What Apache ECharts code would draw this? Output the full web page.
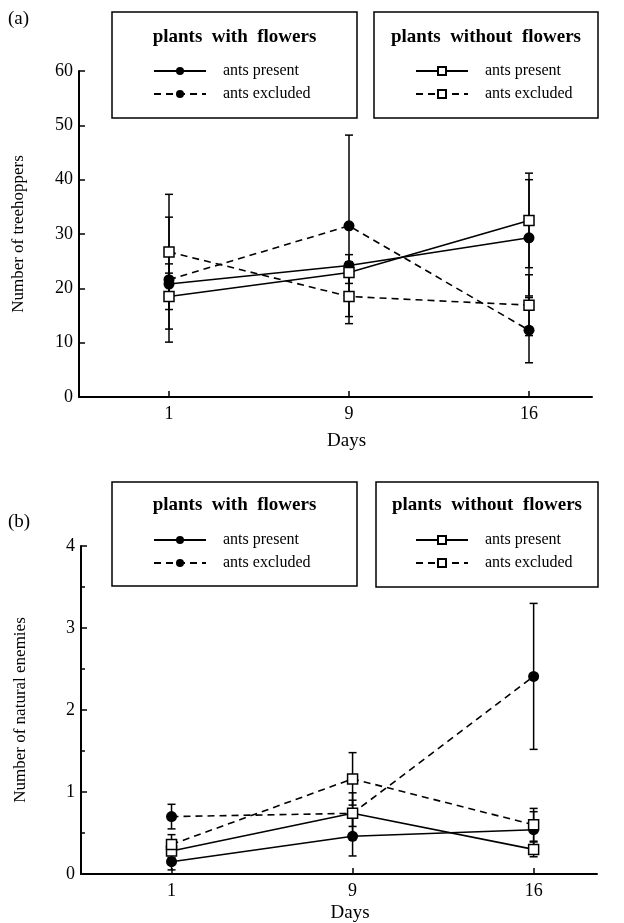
<!DOCTYPE html>
<html>
<head>
<meta charset="utf-8">
<script src="https://cdn.jsdelivr.net/npm/echarts@6/dist/echarts.min.js"></script>
<style>
  html, body { margin: 0; padding: 0; background: #fff; }
  #chart { width: 624px; height: 923px; }
</style>
</head>
<body>
<div id="chart"></div>
<script>
// x positions are category slots 1..3, labelled with the sampling day
const days = ['1', '9', '16']
const slots = [1, 2, 3]

// (a) treehoppers: means and standard errors
const hopFlowPresent = [20.8, 24.2, 29.3]
const hopFlowPresentErr = [2, 2, 10.7]
const hopFlowExcluded = [21.6, 31.5, 12.3]
const hopFlowExcludedErr = [11.5, 16.7, 6]
const hopNoFlowPresent = [18.5, 22.9, 32.5]
const hopNoFlowPresentErr = [6, 2, 8.7]
const hopNoFlowExcluded = [26.7, 18.5, 16.9]
const hopNoFlowExcludedErr = [10.6, 5, 5.6]

// (b) natural enemies
const enFlowPresent = [0.15, 0.46, 0.54]
const enFlowPresentErr = [0.1, 0.24, 0.22]
const enFlowExcluded = [0.70, 0.74, 2.41]
const enFlowExcludedErr = [0.15, 0.16, 0.89]
const enNoFlowPresent = [0.28, 0.74, 0.30]
const enNoFlowPresentErr = [0.08, 0.25, 0.09]
const enNoFlowExcluded = [0.36, 1.16, 0.60]
const enNoFlowExcludedErr = [0.12, 0.32, 0.2]

const serif = '"Liberation Serif", "DejaVu Serif", serif'

function pts(vals) { return vals.map((v, i) => [slots[i], v]) }
function errs(vals, e) { return vals.map((v, i) => [slots[i], v - e[i], v + e[i]]) }

function lineSeries(name, idx, vals, filled, dashed) {
  return {
    name, type: 'line', xAxisIndex: idx, yAxisIndex: idx, z: 3,
    data: pts(vals),
    symbol: filled ? 'circle' : 'rect',
    symbolSize: filled ? 11 : 10,
    itemStyle: filled
      ? { color: '#000', borderColor: '#000', borderWidth: 0 }
      : { color: '#fff', borderColor: '#000', borderWidth: 1.5 },
    lineStyle: { color: '#000', width: 1.6, type: dashed ? [7, 5] : 'solid' },
    emphasis: { disabled: true },
  }
}

function errSeries(idx, vals, e) {
  return {
    type: 'custom', xAxisIndex: idx, yAxisIndex: idx, z: 2, silent: true,
    data: errs(vals, e),
    renderItem: (params, api) => {
      const lo = api.coord([api.value(0), api.value(1)])
      const hi = api.coord([api.value(0), api.value(2)])
      const w = 4
      const style = { stroke: '#000', lineWidth: 1.5 }
      return {
        type: 'group',
        children: [
          { type: 'line', shape: { x1: lo[0], y1: lo[1], x2: hi[0], y2: hi[1] }, style },
          { type: 'line', shape: { x1: hi[0] - w, y1: hi[1], x2: hi[0] + w, y2: hi[1] }, style },
          { type: 'line', shape: { x1: lo[0] - w, y1: lo[1], x2: lo[0] + w, y2: lo[1] }, style },
        ],
      }
    },
  }
}

function xAxis(idx, gap) {
  return {
    type: 'value', gridIndex: idx, min: 0.5, max: 3.35,
    axisLine: { show: true, lineStyle: { color: '#000', width: 2 } },
    axisTick: { show: true, inside: true, length: 6, customValues: slots, lineStyle: { color: '#000', width: 1.5 } },
    axisLabel: { customValues: slots, formatter: v => days[Math.round(v) - 1], color: '#000', fontSize: 18, fontFamily: serif, margin: 8 },
    splitLine: { show: false },
    name: 'Days', nameLocation: 'middle', nameGap: gap,
    nameTextStyle: { color: '#000', fontSize: 19, fontFamily: serif, padding: [0, 0, 0, 22] },
  }
}

function yAxis(idx, max, interval, name, minor) {
  return {
    type: 'value', gridIndex: idx, min: 0, max, interval,
    axisLine: { show: true, lineStyle: { color: '#000', width: 2 } },
    axisTick: { show: true, inside: true, length: 6, lineStyle: { color: '#000', width: 1.5 } },
    minorTick: { show: minor, splitNumber: 2, length: 4, lineStyle: { color: '#000', width: 1.5 } },
    axisLabel: { color: '#000', fontSize: 18, fontFamily: serif, margin: 6 },
    splitLine: { show: false },
    name, nameLocation: 'middle', nameGap: 52, nameRotate: 90,
    nameTextStyle: { color: '#000', fontSize: 17, fontFamily: serif },
  }
}

// legend rows: series name -> visible text
const rowText = n => n.split('|')[1]

function legend(names, left, top) {
  return {
    data: names, orient: 'vertical', left, top, itemGap: 7, padding: 0,
    itemWidth: 52, itemHeight: 10, selectedMode: false,
    formatter: rowText,
    textStyle: { color: '#000', fontSize: 16, fontFamily: serif, padding: [0, 0, 0, 12], lineHeight: 16 },
  }
}

function box(x, y, w, h, title, titleY) {
  return [
    { type: 'rect', shape: { x, y, width: w, height: h }, style: { fill: 'none', stroke: '#000', lineWidth: 1.5 } },
    { type: 'text', x: x + w / 2, y: titleY, style: { text: title, font: 'bold 19px ' + serif, fill: '#000', align: 'center', verticalAlign: 'middle' } },
  ]
}

const chart = echarts.init(document.getElementById('chart'))

chart.setOption({
  backgroundColor: '#fff',
  animation: false,
  grid: [
    { left: 79, top: 71, width: 513, height: 326, outerBoundsMode: 'none' },
    { left: 81, top: 546, width: 516, height: 328, outerBoundsMode: 'none' },
  ],
  xAxis: [xAxis(0, 35), xAxis(1, 30)],
  yAxis: [
    yAxis(0, 60, 10, 'Number of treehoppers', false),
    yAxis(1, 4, 1, 'Number of natural enemies', true),
  ],
  legend: [
    legend(['a1|ants present', 'a2|ants excluded'], 153, 63),
    legend(['a3|ants present', 'a4|ants excluded'], 415, 63),
    legend(['b1|ants present', 'b2|ants excluded'], 153, 532),
    legend(['b3|ants present', 'b4|ants excluded'], 415, 532),
  ],
  graphic: [
    { type: 'text', x: 8, y: 10, style: { text: '(a)', font: '19px ' + serif, fill: '#000' } },
    { type: 'text', x: 8, y: 513, style: { text: '(b)', font: '19px ' + serif, fill: '#000' } },
    ...box(112, 12, 245, 106, 'plants  with  flowers', 37),
    ...box(374, 12, 224, 106, 'plants  without  flowers', 37),
    ...box(112, 482, 245, 104, 'plants  with  flowers', 505),
    ...box(376, 482, 222, 105, 'plants  without  flowers', 505),
  ],
  series: [
    errSeries(0, hopFlowPresent, hopFlowPresentErr),
    errSeries(0, hopFlowExcluded, hopFlowExcludedErr),
    errSeries(0, hopNoFlowPresent, hopNoFlowPresentErr),
    errSeries(0, hopNoFlowExcluded, hopNoFlowExcludedErr),
    lineSeries('a1|ants present', 0, hopFlowPresent, true, false),
    lineSeries('a2|ants excluded', 0, hopFlowExcluded, true, true),
    lineSeries('a3|ants present', 0, hopNoFlowPresent, false, false),
    lineSeries('a4|ants excluded', 0, hopNoFlowExcluded, false, true),

    errSeries(1, enFlowPresent, enFlowPresentErr),
    errSeries(1, enFlowExcluded, enFlowExcludedErr),
    errSeries(1, enNoFlowPresent, enNoFlowPresentErr),
    errSeries(1, enNoFlowExcluded, enNoFlowExcludedErr),
    lineSeries('b1|ants present', 1, enFlowPresent, true, false),
    lineSeries('b2|ants excluded', 1, enFlowExcluded, true, true),
    lineSeries('b3|ants present', 1, enNoFlowPresent, false, false),
    lineSeries('b4|ants excluded', 1, enNoFlowExcluded, false, true),
  ],
})
</script>
</body>
</html>
